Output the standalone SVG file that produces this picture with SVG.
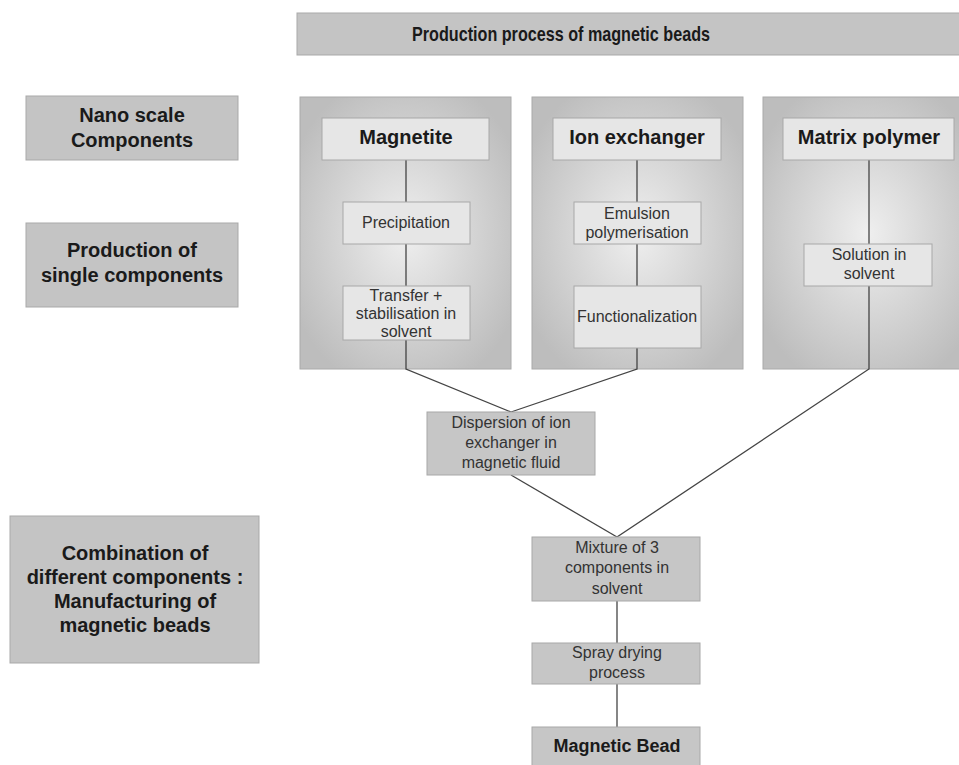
<svg xmlns="http://www.w3.org/2000/svg" width="959" height="765" viewBox="0 0 959 765">
<defs>
<radialGradient id="pg" cx="0.5" cy="0.5" r="0.6">
<stop offset="0" stop-color="#efefef"/>
<stop offset="1" stop-color="#bdbdbd"/>
</radialGradient>
</defs>
<style>
.lab{fill:#c4c4c4;stroke:#a9a9a9;stroke-width:1}
.pan{fill:url(#pg);stroke:#aaaaaa;stroke-width:1}
.box{fill:#e6e6e6;stroke:#a8a8a8;stroke-width:1}
.gbox{fill:#c6c6c6;stroke:#a8a8a8;stroke-width:1}
.b{font-family:"Liberation Sans",Arial,sans-serif;font-weight:bold;fill:#1a1a1a;text-anchor:middle}
.r{font-family:"Liberation Sans",Arial,sans-serif;fill:#333;text-anchor:middle;font-size:16px}
.ln{fill:none;stroke:#444;stroke-width:1.3}
</style>
<rect width="959" height="765" fill="#ffffff"/>

<g id="title">
<rect class="lab" x="297" y="13" width="670" height="42"/>
<text class="b" x="561" y="41" font-size="21" textLength="298" lengthAdjust="spacingAndGlyphs">Production process of magnetic beads</text>
</g>

<g id="label-nano">
<rect class="lab" x="26" y="96" width="212" height="64"/>
<text class="b" x="132" y="122" font-size="20">Nano scale</text>
<text class="b" x="132" y="147" font-size="20">Components</text>
</g>
<g id="label-single">
<rect class="lab" x="26" y="223" width="212" height="84"/>
<text class="b" x="132" y="257" font-size="20">Production of</text>
<text class="b" x="132" y="282" font-size="20">single components</text>
</g>
<g id="label-combination">
<rect class="lab" x="10" y="516" width="249" height="147"/>
<text class="b" x="135" y="560" font-size="20">Combination of</text>
<text class="b" x="135" y="584" font-size="20">different components :</text>
<text class="b" x="135" y="608" font-size="20">Manufacturing of</text>
<text class="b" x="135" y="632" font-size="20">magnetic beads</text>
</g>

<g id="panel-magnetite"><rect class="pan" x="300" y="97" width="211" height="272"/></g>
<g id="panel-ion"><rect class="pan" x="532" y="97" width="211" height="272"/></g>
<g id="panel-matrix"><rect class="pan" x="763" y="97" width="210" height="272"/></g>

<g id="connectors">
<polyline class="ln" points="406,160 406,202"/>
<polyline class="ln" points="406,244 406,286"/>
<polyline class="ln" points="406,340 406,369 511,412"/>
<polyline class="ln" points="637,160 637,202"/>
<polyline class="ln" points="637,244 637,286"/>
<polyline class="ln" points="637,348 637,369 511,412"/>
<polyline class="ln" points="869,160 869,244"/>
<polyline class="ln" points="869,286 869,369 617,537"/>
<polyline class="ln" points="511,475 617,537"/>
<polyline class="ln" points="617,601 617,643"/>
<polyline class="ln" points="617,684 617,727"/>
</g>

<g id="magnetite">
<rect class="box" x="322" y="118" width="167" height="42"/>
<text class="b" x="406" y="144" font-size="20">Magnetite</text>
</g>
<g id="precipitation">
<rect class="box" x="343" y="202" width="127" height="42"/>
<text class="r" x="406" y="228">Precipitation</text>
</g>
<g id="transfer">
<rect class="box" x="343" y="286" width="127" height="54"/>
<text class="r" x="406" y="301">Transfer +</text>
<text class="r" x="406" y="319">stabilisation in</text>
<text class="r" x="406" y="337">solvent</text>
</g>

<g id="ion-exchanger">
<rect class="box" x="553" y="118" width="168" height="42"/>
<text class="b" x="637" y="144" font-size="20">Ion exchanger</text>
</g>
<g id="emulsion">
<rect class="box" x="574" y="202" width="127" height="42"/>
<text class="r" x="637" y="219">Emulsion</text>
<text class="r" x="637" y="238">polymerisation</text>
</g>
<g id="functionalization">
<rect class="box" x="574" y="286" width="127" height="62"/>
<text class="r" x="637" y="322">Functionalization</text>
</g>

<g id="matrix-polymer">
<rect class="box" x="783" y="118" width="171" height="42"/>
<text class="b" x="869" y="144" font-size="20">Matrix polymer</text>
</g>
<g id="solution">
<rect class="box" x="804" y="244" width="128" height="42"/>
<text class="r" x="869" y="260">Solution in</text>
<text class="r" x="869" y="279">solvent</text>
</g>

<g id="dispersion">
<rect class="gbox" x="427" y="412" width="168" height="63"/>
<text class="r" x="511" y="428" font-size="17">Dispersion of ion</text>
<text class="r" x="511" y="448" font-size="17">exchanger in</text>
<text class="r" x="511" y="468" font-size="17">magnetic fluid</text>
</g>
<g id="mixture">
<rect class="gbox" x="532" y="537" width="168" height="64"/>
<text class="r" x="617" y="553" font-size="17">Mixture of 3</text>
<text class="r" x="617" y="573" font-size="17">components in</text>
<text class="r" x="617" y="594" font-size="17">solvent</text>
</g>
<g id="spray">
<rect class="gbox" x="532" y="643" width="168" height="41"/>
<text class="r" x="617" y="658" font-size="17">Spray drying</text>
<text class="r" x="617" y="678" font-size="17">process</text>
</g>
<g id="magnetic-bead">
<rect class="gbox" x="532" y="727" width="168" height="45"/>
<text class="b" x="617" y="752" font-size="18">Magnetic Bead</text>
</g>
</svg>
